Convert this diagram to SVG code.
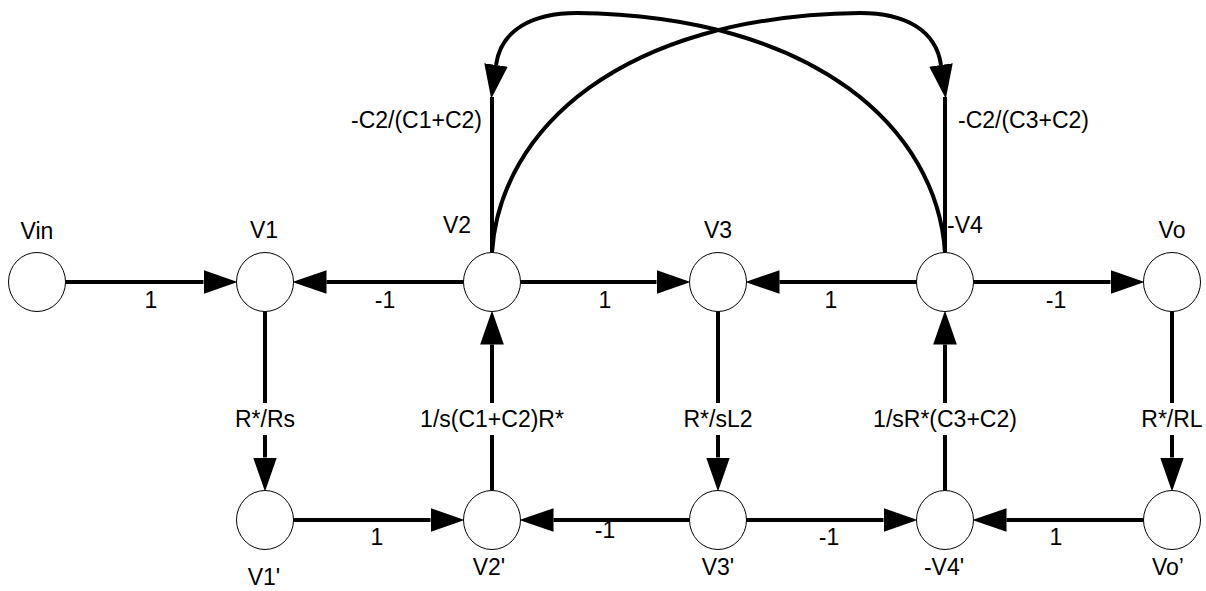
<svg xmlns="http://www.w3.org/2000/svg" width="1206" height="591" viewBox="0 0 1206 591">
<style>
  .e { fill: none; stroke: #000; stroke-width: 4; marker-end: url(#ah); }
  .el { fill: none; stroke: #000; stroke-width: 4; }
  .n { fill: #fff; stroke: #000; stroke-width: 1; }
  text { font-family: "Liberation Sans", Arial, sans-serif; font-size: 23px; fill: #000; }
  .m { text-anchor: middle; }
  .bg { fill: #fff; stroke: none; }
</style>
<defs>
  <marker id="ah" markerUnits="userSpaceOnUse" markerWidth="34" markerHeight="24" viewBox="0 0 33 23" refX="0" refY="11.5" orient="auto">
    <path d="M0 0 L33 11.5 L0 23 z" fill="#000"/>
  </marker>
</defs>
<rect width="1206" height="591" fill="#fff"/>
<g id="connectors">
  <path class="e" d="M65.5 282 H203.5"/>
  <path class="e" d="M463.5 282 H326.5"/>
  <path class="e" d="M520.5 282 H656.5"/>
  <path class="e" d="M916.5 282 H779.5"/>
  <path class="e" d="M973.5 282 H1110.5"/>
  <path class="e" d="M265 311.5 V457.5"/>
  <path class="e" d="M718 311.5 V457.5"/>
  <path class="e" d="M1172 311.5 V457.5"/>
  <path class="e" d="M492 490.5 V344.5"/>
  <path class="e" d="M945 490.5 V344.5"/>
  <path class="e" d="M293.5 520 H430.5"/>
  <path class="e" d="M689.5 520 H553.5"/>
  <path class="e" d="M746.5 520 H883.5"/>
  <path class="e" d="M1143.5 520 H1006.5"/>
  <path class="e" d="M492 252.5 C500 130 620 16 860 13 C905 13 936 30 941 65"/>
  <path class="el" d="M945 97 V252.5"/>
  <path class="e" d="M945 252.5 C937 130 817 16 577 13 C532 13 501 30 496 65"/>
  <path class="el" d="M492 97 V252.5"/>
</g>
<g id="edge-labels">
  <text class="m" x="151" y="308">1</text>
  <text class="m" x="385" y="308">-1</text>
  <text class="m" x="605" y="308">1</text>
  <text class="m" x="831" y="308">1</text>
  <text class="m" x="1056" y="308">-1</text>
  <text class="m" x="377" y="545">1</text>
  <text class="m" x="605" y="538">-1</text>
  <text class="m" x="829" y="545">-1</text>
  <text class="m" x="1056" y="545">1</text>
  <text x="482" y="128" text-anchor="end">-C2/(C1+C2)</text>
  <text x="958" y="128">-C2/(C3+C2)</text>
  <rect class="bg" x="232" y="403" width="66" height="32"/>
  <text class="m" x="265" y="427">R*/Rs</text>
  <rect class="bg" x="417" y="403" width="150" height="32"/>
  <text class="m" x="492" y="427">1/s(C1+C2)R*</text>
  <rect class="bg" x="681" y="403" width="74" height="32"/>
  <text class="m" x="718" y="427">R*/sL2</text>
  <rect class="bg" x="870" y="403" width="150" height="32"/>
  <text class="m" x="945" y="427">1/sR*(C3+C2)</text>
  <rect class="bg" x="1139" y="403" width="66" height="32"/>
  <text class="m" x="1172" y="427">R*/RL</text>
</g>
<g id="node-Vin"><ellipse class="n" cx="37" cy="282" rx="28.5" ry="29.5"/><text class="m" x="37" y="239">Vin</text></g>
<g id="node-V1"><ellipse class="n" cx="265" cy="282" rx="28.5" ry="29.5"/><text class="m" x="264" y="238">V1</text></g>
<g id="node-V2"><ellipse class="n" cx="492" cy="282" rx="28.5" ry="29.5"/><text class="m" x="457" y="233">V2</text></g>
<g id="node-V3"><ellipse class="n" cx="718" cy="282" rx="28.5" ry="29.5"/><text class="m" x="718" y="238">V3</text></g>
<g id="node-V4"><ellipse class="n" cx="945" cy="282" rx="28.5" ry="29.5"/><text class="m" x="965" y="233">-V4</text></g>
<g id="node-Vo"><ellipse class="n" cx="1172" cy="282" rx="28.5" ry="29.5"/><text class="m" x="1172" y="238">Vo</text></g>
<g id="node-V1p"><ellipse class="n" cx="265" cy="520" rx="28.5" ry="29.5"/><text class="m" x="264" y="585">V1'</text></g>
<g id="node-V2p"><ellipse class="n" cx="492" cy="520" rx="28.5" ry="29.5"/><text class="m" x="489" y="575">V2'</text></g>
<g id="node-V3p"><ellipse class="n" cx="718" cy="520" rx="28.5" ry="29.5"/><text class="m" x="718" y="575">V3'</text></g>
<g id="node-V4p"><ellipse class="n" cx="945" cy="520" rx="28.5" ry="29.5"/><text class="m" x="944" y="575">-V4'</text></g>
<g id="node-Vop"><ellipse class="n" cx="1172" cy="520" rx="28.5" ry="29.5"/><text class="m" x="1168" y="575">Vo’</text></g>
</svg>
